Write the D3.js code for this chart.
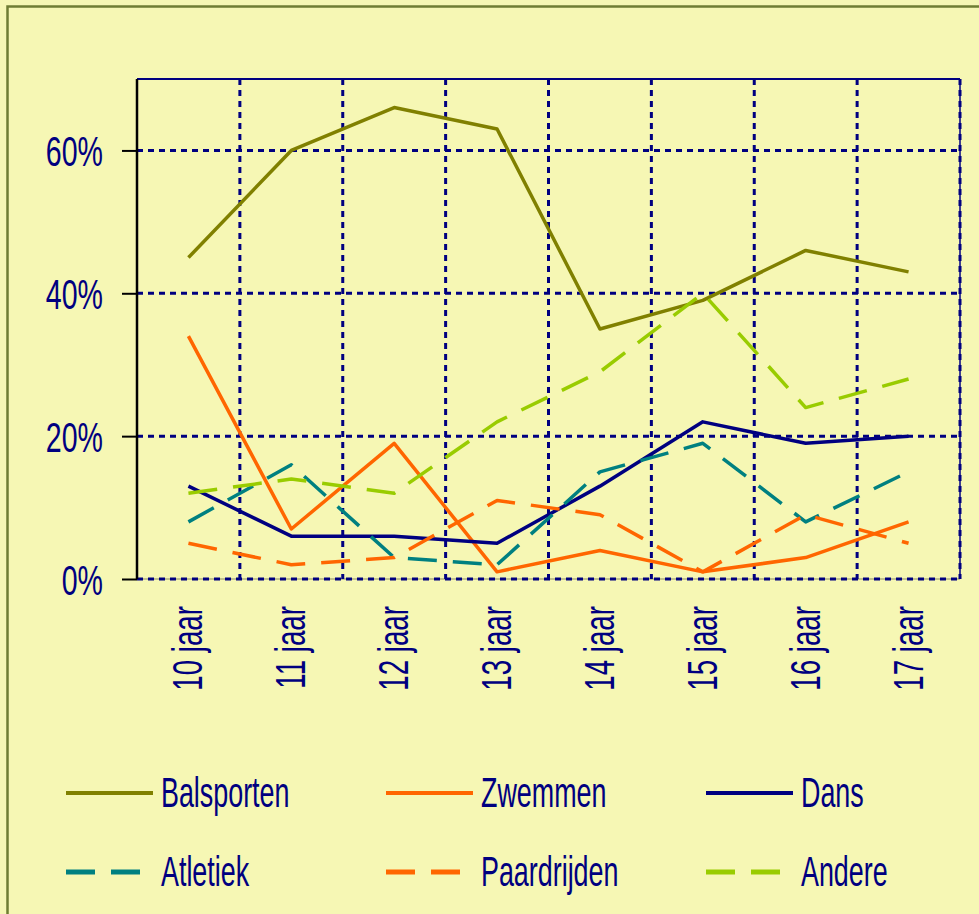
<!DOCTYPE html>
<html>
<head>
<meta charset="utf-8">
<script src="https://cdn.jsdelivr.net/npm/d3@7"></script>
<style>
  html, body { margin: 0; padding: 0; background: #f6f7b4; }
  svg { display: block; }
</style>
</head>
<body>
<div class="chart-container"></div>
<script>
'use strict';

var ages = ['10 jaar', '11 jaar', '12 jaar', '13 jaar', '14 jaar', '15 jaar', '16 jaar', '17 jaar'];
var yTicks = [0, 0.2, 0.4, 0.6];

var balsporten  = [0.45, 0.60, 0.66, 0.63, 0.35, 0.39, 0.46, 0.43];
var zwemmen     = [0.34, 0.07, 0.19, 0.01, 0.04, 0.01, 0.03, 0.08];
var dans        = [0.13, 0.06, 0.06, 0.05, 0.13, 0.22, 0.19, 0.20];
var atletiek    = [0.08, 0.16, 0.03, 0.02, 0.15, 0.19, 0.08, 0.15];
var paardrijden = [0.05, 0.02, 0.03, 0.11, 0.09, 0.01, 0.09, 0.05];
var andere      = [0.12, 0.14, 0.12, 0.22, 0.29, 0.40, 0.24, 0.28];

var seriesNames = ['Balsporten', 'Zwemmen', 'Dans', 'Atletiek', 'Paardrijden', 'Andere'];
var seriesValues = [balsporten, zwemmen, dans, atletiek, paardrijden, andere];

var colors = ['#808000', '#ff6600', '#000080', '#008080', '#ff6600', '#99cc00'];
var dashed = [false, false, false, true, true, true];

drawChart();

function drawChart() {
  var width = 979,
    height = 914,
    plot = { left: 137, right: 960, top: 79, bottom: 579 },
    textColor = '#000080',
    fontFamily = '"Liberation Sans", Arial, sans-serif';

  var svg = d3.select('.chart-container').append('svg')
    .attr('width', width)
    .attr('height', height);

  svg.append('rect')
    .attr('width', width)
    .attr('height', height)
    .attr('fill', '#f6f7b4');

  // outer frame, runs off the right and bottom edge
  svg.append('rect')
    .attr('x', 7.5)
    .attr('y', 6.5)
    .attr('width', width + 20)
    .attr('height', height + 20)
    .attr('fill', 'none')
    .attr('stroke', '#6f7d33')
    .attr('stroke-width', 2.5);

  var x = d3.scaleBand().domain(ages).range([plot.left, plot.right]);
  var y = d3.scaleLinear().domain([0, 0.7]).range([plot.bottom, plot.top]);

  var grid = svg.append('g').attr('class', 'grid');

  // top border
  grid.append('line')
    .attr('x1', plot.left).attr('x2', plot.right)
    .attr('y1', plot.top).attr('y2', plot.top)
    .attr('stroke', '#000080').attr('stroke-width', 2);
  grid.append('line')
    .attr('x1', plot.right).attr('x2', plot.right)
    .attr('y1', plot.top).attr('y2', plot.bottom)
    .attr('stroke', '#000080').attr('stroke-width', 1.5);
  grid.append('line')
    .attr('x1', plot.left).attr('x2', plot.right)
    .attr('y1', plot.bottom).attr('y2', plot.bottom)
    .attr('stroke', '#888866').attr('stroke-width', 1);

  grid.selectAll('.hgrid')
    .data(yTicks)
    .enter()
    .append('line')
    .attr('class', 'hgrid')
    .attr('x1', plot.left).attr('x2', plot.right)
    .attr('y1', function(d) { return y(d); })
    .attr('y2', function(d) { return y(d); })
    .attr('stroke', '#000080')
    .attr('stroke-width', 3)
    .attr('stroke-dasharray', '6,5');

  grid.selectAll('.vgrid')
    .data(ages.slice(1).concat(['end']))
    .enter()
    .append('line')
    .attr('class', 'vgrid')
    .attr('x1', function(d) { return d === 'end' ? plot.right : x(d); })
    .attr('x2', function(d) { return d === 'end' ? plot.right : x(d); })
    .attr('y1', plot.top).attr('y2', plot.bottom)
    .attr('stroke', '#000080')
    .attr('stroke-width', 3)
    .attr('stroke-dasharray', '6,5');

  // y axis
  var yAxis = svg.append('g')
    .attr('transform', 'translate(' + plot.left + ',0)')
    .call(d3.axisLeft(y).tickValues(yTicks).tickSize(15).tickFormat(''));
  yAxis.select('.domain')
    .attr('d', 'M0,' + plot.top + 'V' + plot.bottom)
    .attr('stroke', '#000').attr('stroke-width', 2.5);
  yAxis.selectAll('.tick line').attr('stroke', '#000').attr('stroke-width', 2);

  svg.selectAll('.ylabel')
    .data(yTicks)
    .enter()
    .append('g')
    .attr('class', 'ylabel')
    .attr('transform', function(d) { return 'translate(103,' + (y(d) + 16) + ') scale(0.68,1)'; })
    .append('text')
    .attr('text-anchor', 'end')
    .attr('font-family', fontFamily)
    .attr('font-size', 42)
    .attr('fill', textColor)
    .text(d3.format('.0%'));

  // x labels, rotated
  svg.selectAll('.xlabel')
    .data(ages)
    .enter()
    .append('g')
    .attr('class', 'xlabel')
    .attr('transform', function(d) {
      return 'translate(' + (x(d) + x.bandwidth() / 2 + 14) + ',606) rotate(-90) scale(0.66,1)';
    })
    .append('text')
    .attr('text-anchor', 'end')
    .attr('font-family', fontFamily)
    .attr('font-size', 42)
    .attr('fill', textColor)
    .text(function(d) { return d; });

  // series lines
  var line = d3.line()
    .x(function(d, i) { return x(ages[i]) + x.bandwidth() / 2; })
    .y(function(d) { return y(d); });

  svg.selectAll('.series')
    .data(seriesValues)
    .enter()
    .append('path')
    .attr('class', 'series')
    .attr('d', line)
    .attr('fill', 'none')
    .attr('stroke', function(d, i) { return colors[i]; })
    .attr('stroke-width', 3.5)
    .attr('stroke-linejoin', 'round')
    .attr('stroke-dasharray', function(d, i) { return dashed[i] ? '29,16' : null; });

  // legend
  var legendX = [66, 386, 706],
    legendY = [793, 872];

  var legend = svg.selectAll('.legend-item')
    .data(seriesNames)
    .enter()
    .append('g')
    .attr('class', 'legend-item')
    .attr('transform', function(d, i) {
      return 'translate(' + legendX[i % 3] + ',' + legendY[Math.floor(i / 3)] + ')';
    });

  legend.append('line')
    .attr('x1', 0).attr('x2', 87)
    .attr('y1', 0).attr('y2', 0)
    .attr('stroke', function(d, i) { return colors[i]; })
    .attr('stroke-width', function(d, i) { return dashed[i] ? 5 : 4; })
    .attr('stroke-dasharray', function(d, i) { return dashed[i] ? '29,16' : null; });

  legend.append('g')
    .attr('transform', 'translate(95,14) scale(0.64,1)')
    .append('text')
    .attr('font-family', fontFamily)
    .attr('font-size', 42)
    .attr('fill', textColor)
    .text(function(d) { return d; });
}
</script>
</body>
</html>
